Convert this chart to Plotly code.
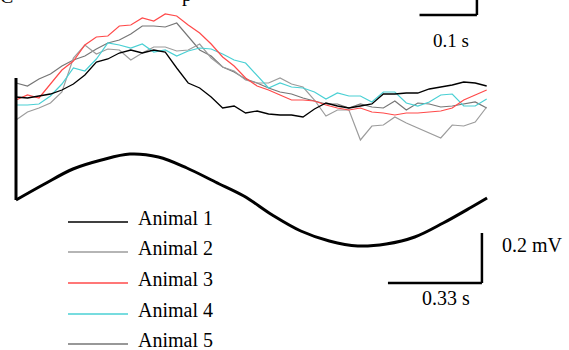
import numpy as np
import plotly.graph_objects as go

# ---------------- data ----------------
# response traces, sampled every 0.02 s (mV)
t_resp = np.round(np.arange(42) * 0.02, 2)
animal1 = [0.412, 0.408, 0.416, 0.424, 0.44, 0.464, 0.5, 0.552, 0.564, 0.588, 0.6, 0.588, 0.6, 0.592,
           0.528, 0.468, 0.448, 0.412, 0.368, 0.376, 0.348, 0.356, 0.344, 0.34, 0.34, 0.332, 0.364, 0.388,
           0.376, 0.368, 0.376, 0.384, 0.424, 0.424, 0.428, 0.428, 0.444, 0.452, 0.46, 0.472, 0.468, 0.456]
animal2 = [0.32, 0.352, 0.368, 0.388, 0.432, 0.568, 0.62, 0.584, 0.604, 0.6, 0.56, 0.588, 0.612, 0.612,
           0.596, 0.6, 0.624, 0.568, 0.532, 0.516, 0.48, 0.468, 0.468, 0.488, 0.464, 0.452, 0.4, 0.336,
           0.36, 0.36, 0.24, 0.296, 0.3, 0.332, 0.308, 0.288, 0.268, 0.248, 0.3, 0.296, 0.312, 0.372]
animal3 = [0.4, 0.42, 0.408, 0.464, 0.52, 0.556, 0.62, 0.652, 0.656, 0.696, 0.7, 0.728, 0.716, 0.744,
           0.736, 0.7, 0.668, 0.624, 0.572, 0.536, 0.488, 0.456, 0.44, 0.42, 0.4, 0.4, 0.396, 0.38,
           0.368, 0.36, 0.368, 0.352, 0.348, 0.34, 0.348, 0.348, 0.352, 0.356, 0.368, 0.4, 0.42, 0.44]
animal4 = [0.38, 0.38, 0.384, 0.416, 0.464, 0.528, 0.516, 0.564, 0.628, 0.62, 0.608, 0.624, 0.592, 0.6,
           0.576, 0.596, 0.608, 0.604, 0.584, 0.56, 0.548, 0.5, 0.448, 0.468, 0.452, 0.448, 0.432, 0.404,
           0.428, 0.416, 0.416, 0.392, 0.432, 0.432, 0.388, 0.376, 0.392, 0.42, 0.424, 0.376, 0.376, 0.404]
animal5 = [0.468, 0.456, 0.484, 0.504, 0.536, 0.56, 0.576, 0.604, 0.628, 0.64, 0.664, 0.696, 0.696, 0.692,
           0.708, 0.656, 0.6, 0.576, 0.532, 0.512, 0.484, 0.468, 0.448, 0.432, 0.424, 0.408, 0.396, 0.384,
           0.384, 0.368, 0.384, 0.372, 0.368, 0.396, 0.36, 0.388, 0.384, 0.372, 0.376, 0.384, 0.392, 0.368]

# stimulus (sinusoid), sampled every 0.1 s (mV)
t_stim = [0.0, 0.1, 0.2, 0.3, 0.4, 0.5, 0.6, 0.7, 0.8, 0.9, 1.0, 1.1, 1.2, 1.3, 1.4, 1.5, 1.6, 1.654]
stim = [0.0, 0.064, 0.124, 0.16, 0.184, 0.172, 0.128, 0.072, 0.016, -0.06, -0.124, -0.164, -0.184,
        -0.176, -0.148, -0.092, -0.028, 0.008]

names = ["Animal 1", "Animal 2", "Animal 3", "Animal 4", "Animal 5"]
colors = ["#000000", "#9c9c9c", "#ff4a4a", "#4ad0d4", "#767676"]

# ---------------- layout constants ----------------
W, H = 569, 350
X0_PX = 16.0            # pixel where time 0 sits
RESP_PX_PER_S = 574.0
STIM_PX_PER_S = 284.8
Y0_PX = 200.0           # pixel of 0 mV
PX_PER_MV = 250.0

xr1 = [-X0_PX / RESP_PX_PER_S, (W - X0_PX) / RESP_PX_PER_S]
xr2 = [-X0_PX / STIM_PX_PER_S, (W - X0_PX) / STIM_PX_PER_S]
yr = [(Y0_PX - H) / PX_PER_MV, Y0_PX / PX_PER_MV]

FONT = "Liberation Serif"

fig = go.Figure()
series = [animal1, animal2, animal3, animal4, animal5]
# draw order: grays first, then colored
for i in [4, 1, 3, 2, 0]:
    fig.add_trace(go.Scatter(x=t_resp, y=series[i], mode="lines", name=names[i],
                             line=dict(color=colors[i], width=1.2 if i else 1.3),
                             showlegend=False))

fig.add_trace(go.Scatter(x=t_stim, y=stim, xaxis="x2", mode="lines",
                         line=dict(color="black", width=3, shape="spline"), showlegend=False))

shapes = []
# onset bar
shapes.append(dict(type="line", xref="x", yref="y", x0=0, x1=0, y0=0, y1=0.488,
                   line=dict(color="black", width=3)))
# top scale bar (0.1 s)
sb_t_end = 0.803
shapes.append(dict(type="line", xref="x", yref="y", x0=sb_t_end - 0.1, x1=sb_t_end, y0=0.74, y1=0.74,
                   line=dict(color="black", width=2.5)))
shapes.append(dict(type="line", xref="x", yref="y", x0=sb_t_end, x1=sb_t_end, y0=0.74, y1=0.9,
                   line=dict(color="black", width=2.5)))
# bottom scale bar (0.33 s, 0.2 mV)
sb2_end = 1.636
sb2_y = -0.332
shapes.append(dict(type="line", xref="x2", yref="y", x0=sb2_end - 0.33, x1=sb2_end, y0=sb2_y, y1=sb2_y,
                   line=dict(color="black", width=2.5)))
shapes.append(dict(type="line", xref="x2", yref="y", x0=sb2_end, x1=sb2_end, y0=sb2_y, y1=sb2_y + 0.2,
                   line=dict(color="black", width=2.5)))

annotations = [
    dict(xref="x", yref="y", x=0.757, y=0.64, text="0.1 s", showarrow=False,
         font=dict(family=FONT, size=19, color="black")),
    dict(xref="x2", yref="y", x=1.51, y=-0.392, text="0.33 s", showarrow=False,
         font=dict(family=FONT, size=20, color="black")),
    dict(xref="x2", yref="y", x=1.699, y=-0.18, text="0.2 mV", showarrow=False, xanchor="left",
         font=dict(family=FONT, size=20, color="black")),
]

# custom legend
leg_y = [222, 252, 283, 314, 344]
for i, (nm, c) in enumerate(zip(names, colors)):
    yp = 1 - leg_y[i] / H
    shapes.append(dict(type="line", xref="paper", yref="paper", x0=68 / W, x1=128 / W, y0=yp, y1=yp,
                       line=dict(color=c, width=1.3)))
    annotations.append(dict(xref="paper", yref="paper", x=136 / W, y=yp, yshift=4, text=nm,
                            showarrow=False, xanchor="left", yanchor="middle",
                            font=dict(family=FONT, size=20, color="black")))

# clipped fragments of text at the top edge
annotations.append(dict(xref="paper", yref="paper", x=-2 / W, y=1, yshift=-9, text="C", showarrow=False,
                        xanchor="left", yanchor="bottom", font=dict(family=FONT, size=20, color="black")))
annotations.append(dict(xref="paper", yref="paper", x=180 / W, y=1, yshift=-8, text="p", showarrow=False,
                        xanchor="left", yanchor="bottom", font=dict(family=FONT, size=20, color="black")))

fig.update_layout(
    width=W, height=H, margin=dict(l=0, r=0, t=0, b=0),
    paper_bgcolor="white", plot_bgcolor="white",
    xaxis=dict(range=xr1, visible=False, showgrid=False, zeroline=False),
    xaxis2=dict(range=xr2, visible=False, overlaying="x", showgrid=False, zeroline=False),
    yaxis=dict(range=yr, visible=False, showgrid=False, zeroline=False),
    shapes=shapes, annotations=annotations, showlegend=False,
)

fig.write_html("out.html")
